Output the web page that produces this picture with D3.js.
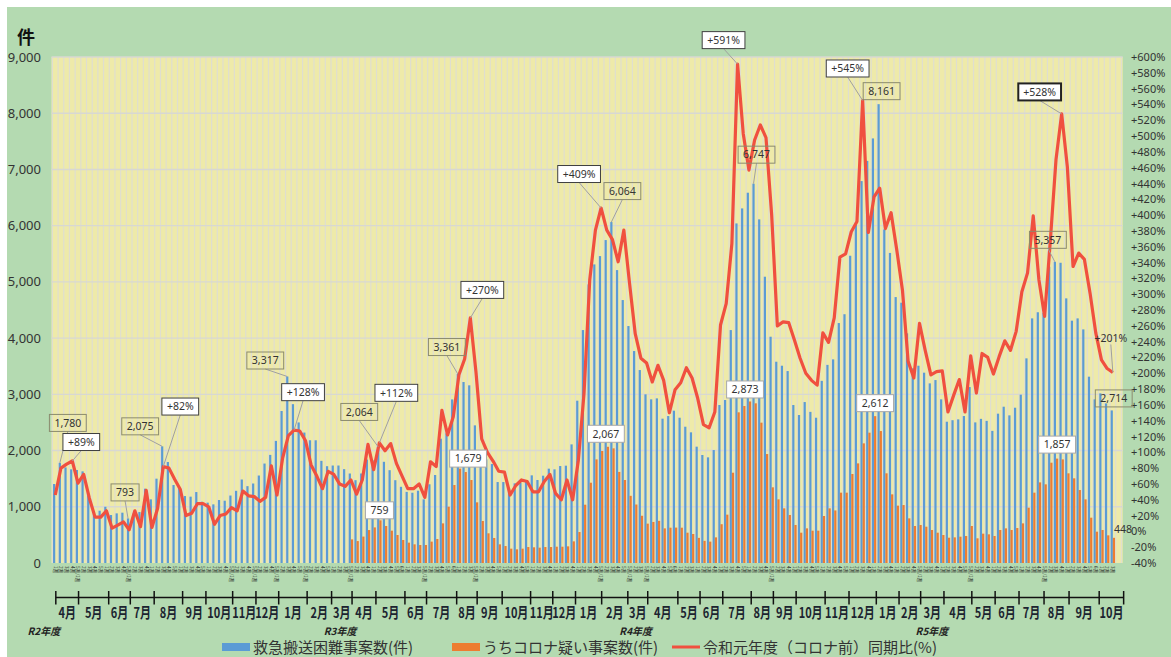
<!DOCTYPE html>
<html>
<head>
<meta charset="utf-8">
<script src="https://cdn.jsdelivr.net/npm/d3@7"></script>
<style>
  body { margin: 0; background: #fff; }
  svg text { font-family: "Noto Sans", "Noto Sans CJK JP", sans-serif; }
  .jp { font-family: "Noto Sans CJK JP", sans-serif; }
</style>
</head>
<body>
<div id="chart"></div>
<script>
// weekly counts, R2 4月1週 .. R5 10月4週
const emergency = [
  1405, 1780, 1700, 1666, 1654, 1630, 1203, 900, 930, 1000,
  853, 883, 895, 793, 883, 906, 1322, 1132, 1500, 2075,
  1796, 1387, 1328, 1191, 1180, 1262, 1090, 1073, 1043, 1120,
  1108, 1200, 1284, 1485, 1367, 1414, 1556, 1769, 1923, 2172,
  2704, 3317, 2825, 2500, 2320, 2183, 2183, 1817, 1722, 1734,
  1734, 1669, 1592, 1473, 1592, 1840, 1828, 2064, 1800, 1651,
  1473, 1355, 1265, 1250, 1286, 1132, 1400, 1565, 2211, 2306,
  2910, 3361, 3219, 3160, 2448, 2000, 1843, 1760, 1440, 1440,
  1328, 1417, 1429, 1476, 1559, 1476, 1553, 1678, 1666, 1725,
  1731, 2110, 2887, 4143, 4955, 5311, 5459, 5744, 6064, 5210,
  4677, 4215, 3770, 3432, 3000, 2911, 2928, 2567, 2614, 2709,
  2584, 2424, 2324, 2069, 1921, 1879, 2009, 2810, 2899, 4143,
  6040, 6307, 6586, 6747, 6112, 5092, 4025, 3580, 3509, 3414,
  2810, 2632, 2863, 2688, 2584, 3240, 3524, 3622, 4268, 4425,
  5465, 6011, 6793, 7152, 7552, 8161, 5934, 5515, 4730, 4630,
  4084, 3462, 3509, 3385, 3195, 3254, 2911, 2513, 2540, 2555,
  2614, 3130, 2501, 2564, 2528, 2350, 2656, 2780, 2626, 2762,
  2994, 3640, 4351, 4460, 4450, 5270, 5357, 5340, 4707, 4310,
  4351, 4155, 3314, 2911, 3017, 2839, 2714
]

// うちコロナ疑い: counted from R3 4月1週 (week index 52)
const suspectedStart = 52
const suspected = [
  420, 390, 470, 586, 633, 759, 658, 575, 498, 409,
  362, 332, 320, 320, 380, 427, 705, 1002, 1387, 1679,
  1618, 1476, 1079, 747, 528, 445, 332, 302, 255, 243,
  255, 284, 279, 273, 284, 284, 290, 290, 296, 385,
  551, 1037, 1428, 1843, 1992, 2067, 2039, 1620, 1476, 1195,
  1040, 840, 700, 730, 750, 616, 628, 630, 628, 539,
  516, 447, 394, 380, 456, 690, 860, 1606, 2680, 2792,
  2873, 2840, 2496, 1938, 1346, 1132, 972, 854, 676, 539,
  616, 575, 575, 836, 972, 935, 1251, 1251, 1583, 1772,
  2128, 2318, 2612, 2347, 1595, 1221, 1020, 1031, 794, 658,
  676, 646, 587, 539, 498, 450, 456, 468, 480, 658,
  439, 522, 510, 480, 587, 616, 587, 622, 705, 984,
  1251, 1434, 1399, 1784, 1857, 1843, 1595, 1506, 1298, 1132,
  806, 557, 587, 492, 448
]

// 令和元年度同期比 (%)
const ratio = [
  46, 80, 85, 89, 61, 72, 42, 18, 18, 26,
  4, 8, 12, 2, 26, 6, 52, 5, 29, 82,
  80, 66, 53, 20, 23, 35, 35, 31, 9, 20,
  22, 30, 26, 51, 45, 44, 38, 43, 83, 46,
  93, 121, 128, 127, 115, 84, 70, 54, 76, 72,
  60, 57, 65, 47, 65, 110, 78, 112, 102, 111,
  86, 70, 54, 54, 60, 43, 88, 82, 153, 122,
  145, 198, 218, 270, 201, 117, 100, 89, 76, 75,
  46, 58, 65, 63, 50, 50, 63, 72, 48, 40,
  65, 40, 90, 175, 318, 381, 409, 381, 369, 341,
  381, 314, 250, 219, 213, 189, 210, 191, 150, 179,
  188, 207, 194, 168, 135, 131, 151, 261, 288, 364,
  591, 503, 457, 495, 514, 498, 400, 260, 265, 264,
  242, 219, 200, 191, 185, 251, 239, 270, 347, 351,
  379, 392, 545, 378, 423, 434, 383, 403, 356, 305,
  215, 194, 263, 229, 198, 202, 203, 151, 172, 192,
  151, 222, 175, 225, 220, 199, 221, 241, 229, 253,
  303, 327, 399, 318, 272, 367, 470, 528, 461, 335,
  352, 344, 301, 251, 217, 206, 201
]

// month boundaries in week units, and the month names between them
const monthTicks = [
  0.1, 4.1, 9.4, 13.2, 17.4, 22.4, 26.5, 31.2, 35.3, 39.3, 44.3, 48.6,
  52.2, 56.4, 61.5, 65.3, 70.6, 74.2, 78.6, 83.6, 87.5, 91.5, 96.1, 100.7,
  104.2, 109.5, 113.4, 117.4, 122.4, 126.3, 130.3, 135.4, 139.6, 144.4, 148.4, 152.2,
  156.3, 161.2, 165.3, 169.5, 173.9, 178.3, 183.6, 187.9
]
const monthNames = ['4月', '5月', '6月', '7月', '8月', '9月', '10月', '11月', '12月', '1月', '2月', '3月']
const monthLabels = [].concat(monthNames, monthNames, monthNames, monthNames.slice(0, 7))
const fiscalYears = ['R2年度', 'R3年度', 'R4年度', 'R5年度']
const fiscalStartMonth = [0, 12, 24, 36]

const leftTicks = d3.range(0, 9001, 1000)
const rightTicks = d3.range(-40, 601, 20)

const legendItems = ['救急搬送困難事案数(件)', 'うちコロナ疑い事案数(件)', '令和元年度（コロナ前）同期比(%)']

// callouts: series, week index, box offset from the point
const callouts = [
  { s: 'em', i: 1, dx: 8, dy: -40, lead: true },
  { s: 'ra', i: 3, dx: 9, dy: -19, lead: true },
  { s: 'em', i: 13, dx: -3, dy: -26, lead: true },
  { s: 'em', i: 19, dx: -22, dy: -20, lead: true },
  { s: 'ra', i: 19, dx: 17, dy: -60, lead: true },
  { s: 'em', i: 41, dx: -22, dy: -16, lead: true },
  { s: 'ra', i: 42, dx: 9, dy: -38, lead: true },
  { s: 'em', i: 57, dx: -19, dy: -35, lead: true },
  { s: 'ra', i: 57, dx: 17, dy: -50, lead: true },
  { s: 'su', i: 57, dx: -1, dy: -10, lead: false },
  { s: 'em', i: 71, dx: -11, dy: -27, lead: true },
  { s: 'ra', i: 73, dx: 12, dy: -28, lead: true },
  { s: 'su', i: 71, dx: 8, dy: -10, lead: false },
  { s: 'ra', i: 96, dx: -22, dy: -34, lead: true },
  { s: 'em', i: 98, dx: 11, dy: -31, lead: true },
  { s: 'su', i: 97, dx: -2, dy: -13, lead: false },
  { s: 'ra', i: 120, dx: -14, dy: -24, lead: true },
  { s: 'em', i: 123, dx: 3, dy: -29, lead: true },
  { s: 'su', i: 122, dx: -5, dy: -12, lead: false },
  { s: 'ra', i: 142, dx: -15, dy: -32, lead: true },
  { s: 'em', i: 145, dx: 3, dy: -13, lead: false },
  { s: 'su', i: 144, dx: 0, dy: -13, lead: false },
  { s: 'ra', i: 177, dx: -22, dy: -22, lead: true, strong: true },
  { s: 'em', i: 176, dx: -7, dy: -22, lead: true },
  { s: 'su', i: 176, dx: 0, dy: -14, lead: false },
  { s: 'ra', i: 186, dx: -2, dy: -34, lead: true, plain: true },
  { s: 'em', i: 186, dx: 2, dy: -12, lead: false },
  { s: 'su', i: 186, dx: 9, dy: -9, lead: false, plain: true }
]

const W = 1171
const H = 657
const N = emergency.length
const plot = { left: 51.5, right: 1122.7, top: 57, bottom: 563 }
const colors = { bg: '#b4dab1', plot: '#eeeaa9', blue: '#5b9bd5', orange: '#ed7d31', red: '#f0503f' }

const svg = d3.select('#chart').append('svg')
  .attr('width', W)
  .attr('height', H)

svg.append('rect')
  .attr('x', 7).attr('y', 7)
  .attr('width', W - 7).attr('height', H - 7)
  .attr('fill', colors.bg)

const x = d3.scaleBand()
  .domain(d3.range(N))
  .range([52.4, 52.4 + 5.686 * N])
const cx = i => x(i) + x.bandwidth() / 2
const pos = f => x.range()[0] + x.step() * (f + 0.5)
const yL = d3.scaleLinear().domain([0, 9000]).range([plot.bottom, plot.top])
const yR = d3.scaleLinear().domain([-40, 600]).range([plot.bottom, plot.top])

// plot area
svg.append('rect')
  .attr('x', plot.left).attr('y', plot.top)
  .attr('width', plot.right - plot.left).attr('height', plot.bottom - plot.top)
  .attr('fill', colors.plot)

svg.append('g')
  .attr('class', 'vgrid')
  .selectAll('line')
  .data(d3.range(N + 2))
  .enter()
  .append('line')
  .attr('x1', d => x.range()[0] + d * x.step())
  .attr('x2', d => x.range()[0] + d * x.step())
  .attr('y1', plot.top)
  .attr('y2', plot.bottom)
  .attr('stroke', '#dfded0')
  .attr('stroke-width', 1.2)

svg.append('g')
  .attr('class', 'hgrid')
  .selectAll('line')
  .data(leftTicks.slice(1))
  .enter()
  .append('line')
  .attr('x1', plot.left)
  .attr('x2', plot.right)
  .attr('y1', d => yL(d))
  .attr('y2', d => yL(d))
  .attr('stroke', '#d8d8d2')
  .attr('stroke-width', 1.4)

// bars
const bw = 2.2
svg.append('g')
  .attr('class', 'emergency')
  .selectAll('rect')
  .data(emergency)
  .enter()
  .append('rect')
  .attr('x', (d, i) => cx(i) - bw)
  .attr('y', d => yL(d))
  .attr('width', bw)
  .attr('height', d => yL(0) - yL(d))
  .attr('fill', colors.blue)

svg.append('g')
  .attr('class', 'suspected')
  .selectAll('rect')
  .data(suspected)
  .enter()
  .append('rect')
  .attr('x', (d, k) => cx(k + suspectedStart))
  .attr('y', d => yL(d))
  .attr('width', bw)
  .attr('height', d => yL(0) - yL(d))
  .attr('fill', colors.orange)

// ratio line
svg.append('path')
  .datum(ratio)
  .attr('fill', 'none')
  .attr('stroke', colors.red)
  .attr('stroke-width', 3.2)
  .attr('stroke-linejoin', 'round')
  .attr('d', d3.line().x((d, i) => cx(i)).y(d => yR(d)))

// axes labels
svg.append('g')
  .selectAll('text')
  .data(leftTicks)
  .enter()
  .append('text')
  .attr('x', 41)
  .attr('y', d => yL(d) + 4.5)
  .attr('text-anchor', 'end')
  .attr('font-size', 13)
  .attr('fill', '#333')
  .text(d3.format(','))

svg.append('g')
  .selectAll('text')
  .data(rightTicks)
  .enter()
  .append('text')
  .attr('x', 1131)
  .attr('y', d => yR(d) + 4)
  .attr('font-size', 11)
  .attr('fill', '#333')
  .text(d => (d > 0 ? '+' : '') + d + '%')

svg.append('text')
  .attr('class', 'jp')
  .attr('x', 17).attr('y', 44)
  .attr('font-size', 18)
  .attr('font-weight', 'bold')
  .attr('fill', '#111')
  .text('件')

// week labels under the bars
const weekLabels = []
for (let m = 0; m < monthTicks.length - 1; m++) {
  const first = Math.ceil(monthTicks[m] - 0.45)
  const last = Math.ceil(monthTicks[m + 1] - 0.45) - 1
  const spanning = m > 0 && Math.abs(first - monthTicks[m]) < 0.3
  for (let i = first; i <= Math.min(last, N - 1); i++) {
    const k = i - first + 1
    weekLabels[i] = (k === 1 && spanning) ? '5週/1週' : k + '週'
  }
}
svg.append('g')
  .attr('class', 'weeklabels')
  .selectAll('text')
  .data(weekLabels)
  .enter()
  .append('text')
  .attr('class', 'jp')
  .attr('transform', (d, i) => `translate(${cx(i) - 1.7},566) rotate(90)`)
  .attr('font-size', 4.6)
  .attr('fill', '#222')
  .text(d => d)

// month axis
const axisY = 597.5
const axis = svg.append('g').attr('class', 'monthaxis')
axis.append('line')
  .attr('x1', pos(monthTicks[0])).attr('x2', pos(monthTicks[monthTicks.length - 1]))
  .attr('y1', axisY).attr('y2', axisY)
  .attr('stroke', '#111').attr('stroke-width', 1.5)
axis.selectAll('line.tick')
  .data(monthTicks)
  .enter()
  .append('line')
  .attr('class', 'tick')
  .attr('x1', d => pos(d)).attr('x2', d => pos(d))
  .attr('y1', axisY - 6.5).attr('y2', axisY + 7)
  .attr('stroke', '#111').attr('stroke-width', 1.5)
axis.selectAll('text.month')
  .data(monthLabels)
  .enter()
  .append('text')
  .attr('class', 'jp month')
  .attr('transform', (d, m) => `translate(${(pos(monthTicks[m]) + pos(monthTicks[m + 1])) / 2},618) scale(0.76,1)`)
  .attr('text-anchor', 'middle')
  .attr('font-size', 14.5)
  .attr('font-weight', 'bold')
  .attr('fill', '#1c2430')
  .text(d => d)
axis.selectAll('text.fy')
  .data(fiscalYears)
  .enter()
  .append('text')
  .attr('class', 'jp fy')
  .attr('x', (d, k) => pos(monthTicks[fiscalStartMonth[k]]) - 12)
  .attr('y', 635)
  .attr('text-anchor', 'middle')
  .attr('font-size', 10)
  .attr('font-weight', 'bold')
  .attr('font-style', 'italic')
  .attr('fill', '#222')
  .text(d => d)

// callouts
const seriesValue = { em: i => emergency[i], su: i => suspected[i - suspectedStart], ra: i => ratio[i] }
const pointOf = c => {
  const v = seriesValue[c.s](c.i)
  if (c.s === 'ra') return [cx(c.i), yR(v)]
  if (c.s === 'em') return [cx(c.i) - bw / 2, yL(v)]
  return [cx(c.i) + bw / 2, yL(v)]
}
const labelText = c => {
  const v = seriesValue[c.s](c.i)
  return c.s === 'ra' ? '+' + v + '%' : d3.format(',')(v)
}
const boxStyle = {
  em: { fill: 'none', stroke: '#8b8b6e' },
  su: { fill: '#fff', stroke: '#a8a8a8' },
  ra: { fill: '#fff', stroke: '#404040' }
}
const layer = svg.append('g').attr('class', 'callouts')
callouts.forEach(c => {
  const [px, py] = pointOf(c)
  const bx = px + c.dx
  const by = py + c.dy
  const g = layer.append('g')
  const t = g.append('text')
    .attr('x', bx).attr('y', by + 3.8)
    .attr('text-anchor', 'middle')
    .attr('font-size', 10.5)
    .attr('fill', '#333')
    .text(labelText(c))
  const tw = t.node().getComputedTextLength()
  const w = tw + 10
  const h = 17
  if (c.lead) {
    const ly = by + (c.plain ? 6 : h / 2)
    g.insert('line', 'text')
      .attr('x1', bx).attr('y1', ly)
      .attr('x2', px).attr('y2', py)
      .attr('stroke', '#a0a0a0').attr('stroke-width', 1)
  }
  if (!c.plain) {
    const st = boxStyle[c.s]
    g.insert('rect', 'text')
      .attr('x', bx - w / 2).attr('y', by - h / 2)
      .attr('width', w).attr('height', h)
      .attr('fill', st.fill)
      .attr('stroke', c.strong ? '#222' : st.stroke)
      .attr('stroke-width', c.strong ? 2 : 1)
  }
})

// legend
const legend = svg.append('g').attr('class', 'legend')
const legendX = [222, 452, 672]
const legendColor = [colors.blue, colors.orange, colors.red]
legendItems.forEach((name, k) => {
  if (k < 2) {
    legend.append('rect')
      .attr('x', legendX[k]).attr('y', 643)
      .attr('width', 28).attr('height', 8)
      .attr('fill', legendColor[k])
  } else {
    legend.append('line')
      .attr('x1', legendX[k]).attr('x2', legendX[k] + 28)
      .attr('y1', 647).attr('y2', 647)
      .attr('stroke', legendColor[k]).attr('stroke-width', 3)
  }
  legend.append('text')
    .attr('class', 'jp')
    .attr('x', legendX[k] + 31).attr('y', 653)
    .attr('font-size', 15)
    .attr('fill', '#333')
    .text(name)
})
</script>
</body>
</html>
